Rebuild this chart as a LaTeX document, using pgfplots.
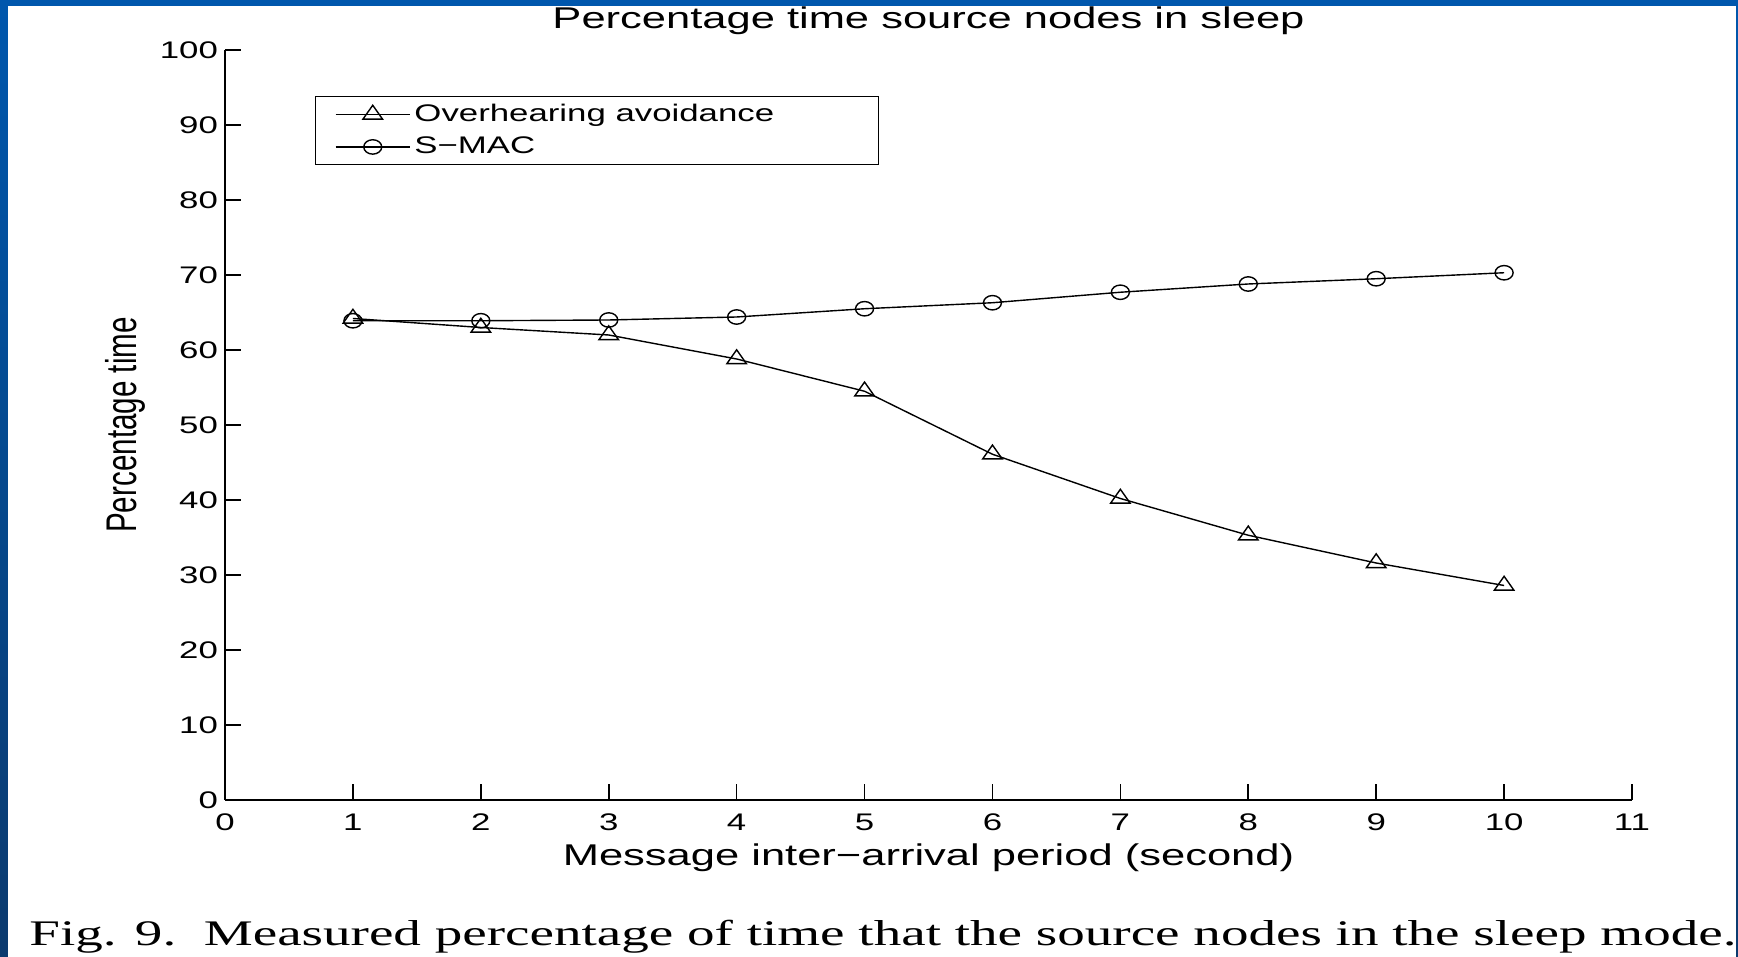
\documentclass[border=0pt]{standalone}
\usepackage{pgfplots}
\pgfplotsset{compat=1.18}
\usepackage{fontspec}
\setmainfont{Liberation Sans}[FakeStretch=1.45]
\newfontfamily\plainsans{Liberation Sans}
\newfontfamily\capfont{Liberation Serif}[FakeStretch=1.53]
\definecolor{bgtop}{HTML}{0057AD}
\definecolor{bgbot}{HTML}{0B3A6E}
\begin{document}
\begin{tikzpicture}
\useasboundingbox (0,0) rectangle (869pt,478.5pt);
\fill[bgtop] (0,0) rectangle (869pt,478.5pt);
\shade[top color=bgtop,bottom color=bgbot] (0,0) rectangle (4pt,478.5pt);
\shade[top color=bgtop,bottom color=bgbot] (868pt,0) rectangle (869pt,478.5pt);
\fill[white] (4pt,0) rectangle (868pt,475.5pt);
\begin{axis}[
  at={(112.5pt,78.5pt)}, anchor=south west,
  width=703.5pt, height=375pt, scale only axis,
  xmin=0, xmax=11, ymin=0, ymax=100,
  xtick={0,1,...,11}, ytick={0,10,...,100},
  axis x line*=bottom, axis y line*=left,
  axis line style={line width=0.8pt, black},
  tick align=inside, major tick length=8pt,
  every tick/.style={black, line width=0.8pt},
  tick label style={font=\fontsize{12}{14}\selectfont},
  /pgf/number format/assume math mode=true,
  xticklabel style={yshift=-3.5pt},
  every axis title shift=0pt,
  title={Percentage time source nodes in sleep},
  title style={at={(axis description cs:0.5,1.028)}, anchor=base, font=\fontsize{15}{18}\selectfont, inner sep=0pt},
  xlabel={Message inter−arrival period (second)},
  xlabel style={at={(axis description cs:0.5,-0.0867)}, anchor=base, font=\fontsize{15}{18}\selectfont, inner sep=0pt},
  ylabel={\scalebox{1}[1.45]{\plainsans\fontsize{14.8}{16}\selectfont Percentage time}},
  ylabel style={at={(axis description cs:-0.0705,0.5)}, anchor=center, rotate=0, inner sep=0pt},
  legend cell align=left,
  legend style={at={(axis description cs:0.064,0.9387)}, anchor=north west,
    draw=black, line width=0.5pt, font=\fontsize{12}{14}\selectfont,
    inner xsep=9.75pt, inner ysep=1.9pt, row sep=2.2pt,
    nodes={inner sep=2pt}},
  legend image code/.code={\draw[mark repeat=2,mark phase=2,#1] plot coordinates {(0pt,0pt) (18.5pt,0pt) (37pt,0pt)};},
]
\addplot[black, line width=0.7pt, mark=triangle, mark size=4.6pt, mark options={xscale=1.22, solid, line width=0.7pt}]
  coordinates {(1,64.2) (2,63.0) (3,62.0) (4,58.8) (5,54.5) (6,46.1) (7,40.2) (8,35.3) (9,31.6) (10,28.6)};
\addlegendentry{\makebox[220.5pt][l]{Overhearing avoidance}}
\addplot[black, line width=0.7pt, mark=o, mark size=3.6pt, mark options={xscale=1.25, solid, line width=0.7pt}]
  coordinates {(1,63.9) (2,63.9) (3,64.0) (4,64.4) (5,65.5) (6,66.3) (7,67.7) (8,68.8) (9,69.5) (10,70.3)};
\addlegendentry{\makebox[220.5pt][l]{S−MAC}}
\end{axis}
\node[anchor=base west, inner sep=0pt, font=\capfont\fontsize{18}{20}\selectfont] at (14.5pt,5.5pt) {Fig. 9.\ \ Measured percentage of time that the source nodes in the sleep mode.};
\end{tikzpicture}
\end{document}
